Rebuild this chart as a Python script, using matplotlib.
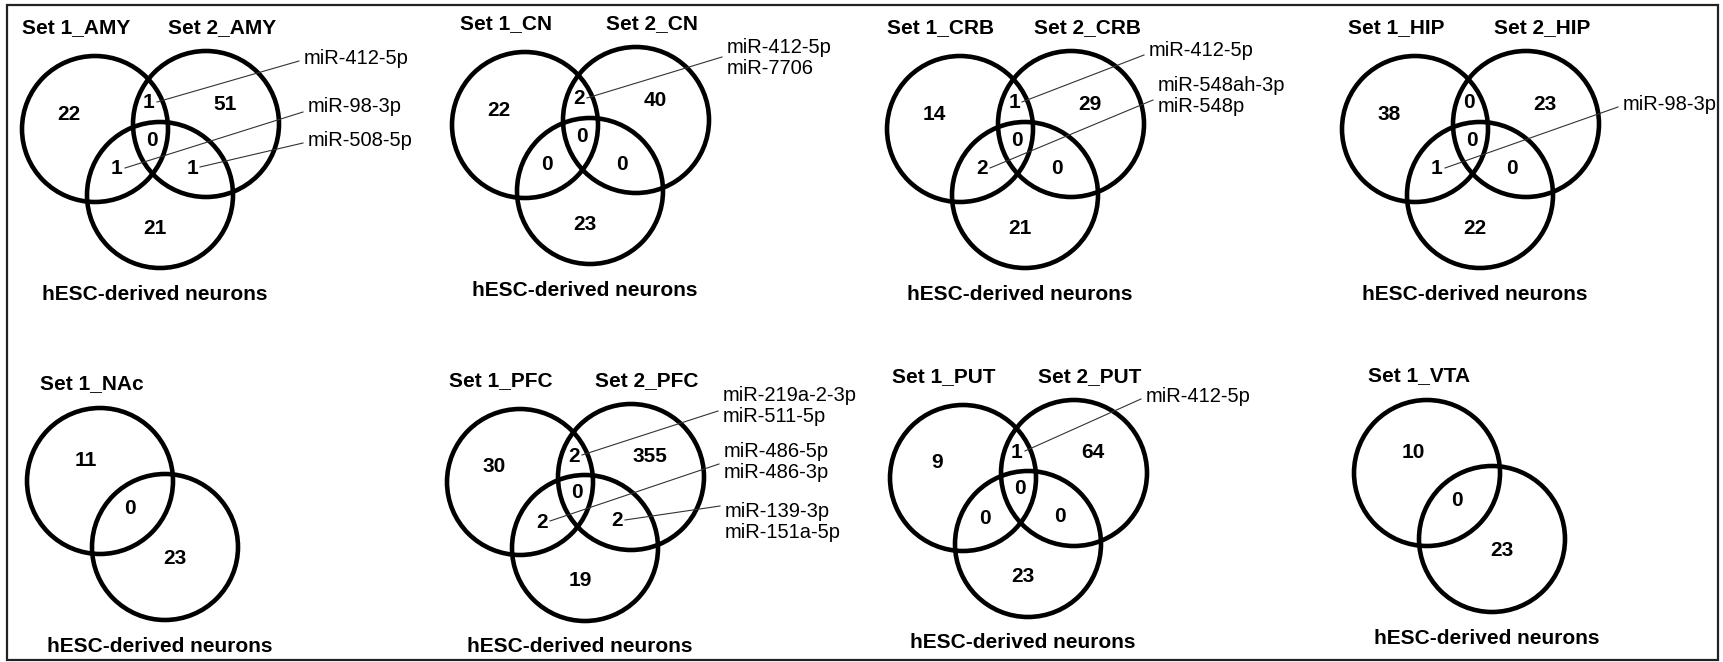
import matplotlib
matplotlib.use("Agg")
import matplotlib.pyplot as plt
from matplotlib.patches import Circle, Rectangle

plt.rcParams['font.family'] = ['Liberation Sans', 'DejaVu Sans']

# ---- data ----
regions = ["AMY", "CN", "CRB", "HIP", "NAc", "PFC", "PUT", "VTA"]
set1_labels = ["Set 1_" + r for r in regions]
set2_labels = ["Set 2_AMY", "Set 2_CN", "Set 2_CRB", "Set 2_HIP", None, "Set 2_PFC", "Set 2_PUT", None]
ref_label = "hESC-derived neurons"

# three-set counts: [A only, A&B, B only, A&B&C, A&C, B&C, C only]
counts_amy = [22, 1, 51, 0, 1, 1, 21]
counts_cn = [22, 2, 40, 0, 0, 0, 23]
counts_crb = [14, 1, 29, 0, 2, 0, 21]
counts_hip = [38, 0, 23, 0, 1, 0, 22]
counts_pfc = [30, 2, 355, 0, 2, 2, 19]
counts_put = [9, 1, 64, 0, 0, 0, 23]
# two-set counts: [A only, A&C, C only]
counts_nac = [11, 0, 23]
counts_vta = [10, 0, 23]

# shared miRNAs: (region key, names)
mirs_amy = [("AB", ["miR-412-5p"]), ("AC", ["miR-98-3p"]), ("BC", ["miR-508-5p"])]
mirs_cn = [("AB", ["miR-412-5p", "miR-7706"])]
mirs_crb = [("AB", ["miR-412-5p"]), ("AC", ["miR-548ah-3p", "miR-548p"])]
mirs_hip = [("AC", ["miR-98-3p"])]
mirs_pfc = [("AB", ["miR-219a-2-3p", "miR-511-5p"]),
            ("AC", ["miR-486-5p", "miR-486-3p"]),
            ("BC", ["miR-139-3p", "miR-151a-5p"])]
mirs_put = [("AB", ["miR-412-5p"])]

counts = [counts_amy, counts_cn, counts_crb, counts_hip, counts_nac, counts_pfc, counts_put, counts_vta]
mirs = [mirs_amy, mirs_cn, mirs_crb, mirs_hip, [], mirs_pfc, mirs_put, []]

# ---- layout (pixels, y downwards) ----
W, H = 1723, 662
origins = [(95, 129), (525, 125), (960, 129), (1415, 129),
           (100, 481), (520, 482), (963, 478), (1427, 473)]
R = 73
off_B = (111, -5)
off_C = (65, 66)
pos3 = {"A": (-26, -15), "AB": (54, -26), "B": (130, -25), "ABC": (57, 11),
        "AC": (22, 40), "BC": (97, 39), "C": (60, 99)}
keys3 = ["A", "AB", "B", "ABC", "AC", "BC", "C"]
pos2 = [(-14, -21), (30, 27), (75, 78)]
# (text x, text centre y, leader end y) relative to circle A centre
note_pos = [
    [(209, -71, -68), (213, -23, -17), (213, 12, 14)],
    [(202, -67, -68)],
    [(189, -79, -74), (198, -33, -29)],
    [(208, -24, -22)],
    [],
    [(203, -76, -71), (204, -20, -18), (205, 40, 24)],
    [(183, -81, -79)],
    [],
]

fig = plt.figure(figsize=(W / 100, H / 100), dpi=100)
ax = fig.add_axes([0, 0, 1, 1])
ax.set_xlim(0, W)
ax.set_ylim(H, 0)
ax.axis("off")

ax.add_patch(Rectangle((7, 5), 1711, 655, fill=False, ec="#222222", lw=1.6))

fs = 15
fs_note = 14.5
for i, name in enumerate(regions):
    x0, y0 = origins[i]
    three = set2_labels[i] is not None
    centers = [(x0, y0), (x0 + off_C[0], y0 + off_C[1])]
    if three:
        centers.append((x0 + off_B[0], y0 + off_B[1]))
    for cx, cy in centers:
        ax.add_patch(Circle((cx, cy), R, fill=False, ec="black", lw=3.3))

    if three:
        ax.text(x0 - 19, y0 - 101, set1_labels[i], ha="center", va="center", fontsize=fs, fontweight="bold")
        ax.text(x0 + 127, y0 - 101, set2_labels[i], ha="center", va="center", fontsize=fs, fontweight="bold")
        for k, v in zip(keys3, counts[i]):
            dx, dy = pos3[k]
            ax.text(x0 + dx, y0 + dy, str(v), ha="center", va="center", fontsize=fs, fontweight="bold")
    else:
        ax.text(x0 - 8, y0 - 97, set1_labels[i], ha="center", va="center", fontsize=fs, fontweight="bold")
        for (dx, dy), v in zip(pos2, counts[i]):
            ax.text(x0 + dx, y0 + dy, str(v), ha="center", va="center", fontsize=fs, fontweight="bold")
    ax.text(x0 + 60, y0 + 165, ref_label, ha="center", va="center", fontsize=fs, fontweight="bold")

    for (key, names), (tx, ty, ly) in zip(mirs[i], note_pos[i]):
        nx, ny = pos3[key]
        ax.text(x0 + tx, y0 + ty, "\n".join(names), ha="left", va="center",
                fontsize=fs_note, linespacing=1.15)
        ax.plot([x0 + nx + 8, x0 + tx - 5], [y0 + ny - 1, y0 + ly], color="#333333", lw=0.8)

fig.savefig("out.png", dpi=100)
